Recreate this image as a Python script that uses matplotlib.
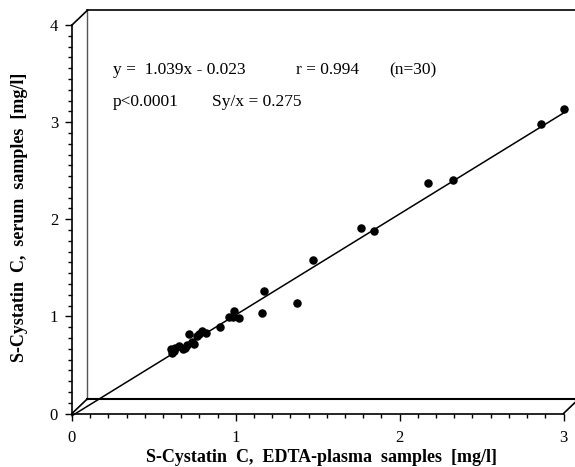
import numpy as np
import matplotlib
matplotlib.use("Agg")
import matplotlib.pyplot as plt
import matplotlib.transforms as mtransforms
from matplotlib.ticker import MultipleLocator

# ---- data ----
edta_plasma = [0.605, 0.609, 0.62, 0.63, 0.655, 0.68, 0.692, 0.703, 0.715, 0.73,
               0.747, 0.778, 0.796, 0.819, 0.902, 0.957, 0.982, 0.991, 1.018, 1.161,
               1.169, 1.373, 1.470, 1.764, 1.845, 2.173, 2.323, 2.861, 3.004, 0.76]
serum = [0.66, 0.626, 0.64, 0.67, 0.69, 0.66, 0.677, 0.708, 0.82, 0.74,
         0.719, 0.82, 0.85, 0.83, 0.89, 0.99, 0.99, 1.06, 0.98, 1.03,
         1.26, 1.14, 1.577, 1.91, 1.88, 2.37, 2.40, 2.98, 3.14, 0.80]
slope, intercept = 1.039, -0.023
fit_x = [0.0, 3.0]
x_ticks = [0, 1, 2, 3]
y_ticks = [0, 1, 2, 3, 4]

plt.rcParams['font.family'] = ['Liberation Serif', 'DejaVu Serif']

W, H = 575, 467
fig = plt.figure(figsize=(W / 100, H / 100), dpi=100)
x0, x3 = 72, 563.5
y0, y4 = 413.5, 25
ax = fig.add_axes([x0 / W, (H - y0) / H, (x3 - x0) / W, (y0 - y4) / H])
ax.set_xlim(0, 3)
ax.set_ylim(0, 4)
ax.patch.set_alpha(0)
for s in ['top', 'right']:
    ax.spines[s].set_visible(False)
for s in ['left', 'bottom']:
    ax.spines[s].set_linewidth(1.2)

ax.set_xticks(x_ticks)
ax.set_yticks(y_ticks)
ax.xaxis.set_minor_locator(MultipleLocator(1 / 9))
ax.yaxis.set_minor_locator(MultipleLocator(1 / 9))
ax.tick_params(which='major', length=5, width=1.0, labelsize=12)
ax.tick_params(which='minor', length=3, width=1.0)
ax.tick_params(axis='x', which='major', pad=7)
ax.tick_params(axis='y', which='major', pad=5)

# back panel (pseudo-3D frame)
dx, dy = 11 / 72, 10.5 / 72
off = mtransforms.ScaledTranslation(dx, dy, fig.dpi_scale_trans)
tb = ax.transData + off
lw = 1.2
ax.plot([0, 0], [0, 4], color='#555555', lw=1.0, transform=tb, clip_on=False)
ax.plot([0, 3], [4, 4], color='black', lw=lw, transform=tb, clip_on=False)
ax.plot([3, 3], [0, 4], color='black', lw=lw, transform=tb, clip_on=False)
ax.plot([0, 3], [0, 0], color='black', lw=1.5, transform=tb, clip_on=False)
# connectors
inv = fig.transFigure.inverted()
for (cx, cy) in [(0, 4), (0, 0), (3, 0)]:
    a = inv.transform(ax.transData.transform((cx, cy)))
    b = inv.transform(tb.transform((cx, cy)))
    fig.add_artist(plt.Line2D([a[0], b[0]], [a[1], b[1]], color='black', lw=1.2))

# regression line
fit_y = [slope * v + intercept for v in fit_x]
ax.plot(fit_x, fit_y, color='black', lw=1.1, clip_on=False)
ax.scatter(edta_plasma, serum, s=26, color='black', zorder=3, clip_on=False)

# annotations
def ftxt(px, py, s, **kw):
    fig.text(px / W, 1 - py / H, s, **kw)

fs = 12.5
ftxt(113, 70, 'y =  1.039x - 0.023', fontsize=fs, va='center')
ftxt(296, 70, 'r = 0.994', fontsize=fs, va='center')
ftxt(389, 70, '(n=30)', fontsize=fs, va='center')
ftxt(113, 102, 'p<0.0001', fontsize=fs, va='center')
ftxt(212, 102, 'Sy/x = 0.275', fontsize=fs, va='center')

ftxt(321, 457, 'S-Cystatin  C,  EDTA-plasma  samples  [mg/l]', fontsize=13,
     fontweight='bold', ha='center', va='center')
ftxt(20, 217, 'S-Cystatin  C,  serum  samples  [mg/l]', fontsize=13,
     fontweight='bold', ha='center', va='center', rotation=90)

fig.savefig('out.png', dpi=100)
